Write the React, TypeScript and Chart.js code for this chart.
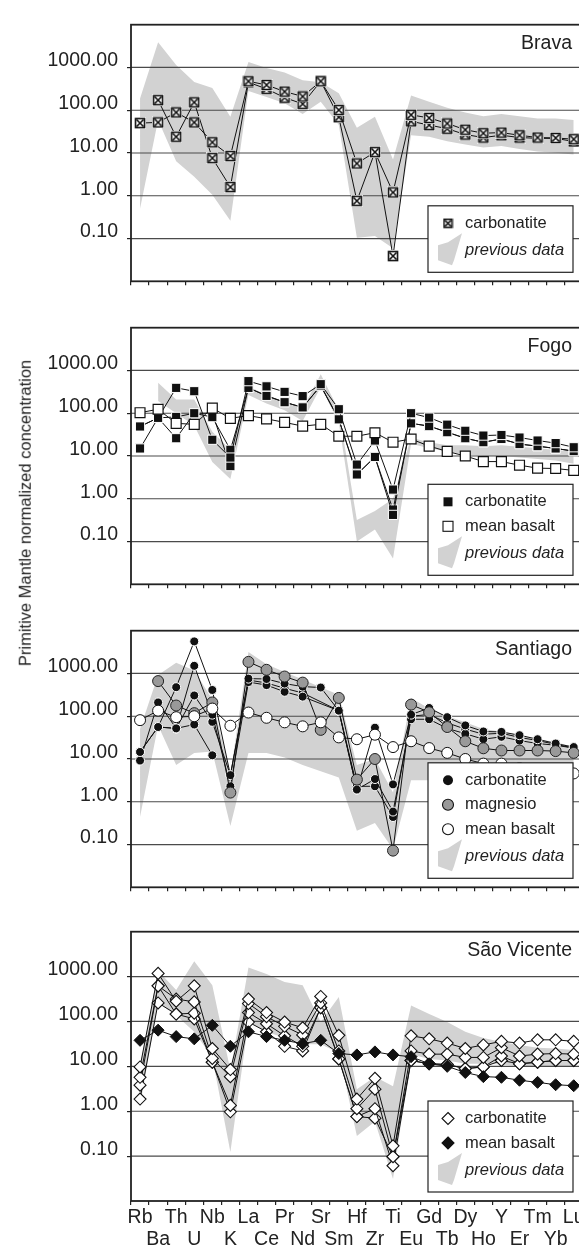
import React, { useEffect, useRef } from 'react';
import { Chart, registerables } from 'chart.js';

Chart.register(...registerables);

const FONT = '"Liberation Sans", Arial, Helvetica, sans-serif';
const TEXT = '#222';
const SHADE = '#d2d2d2';

// ---------- data ----------
const ELEMENTS = ['Rb', 'Ba', 'Th', 'U', 'Nb', 'K', 'La', 'Ce', 'Pr', 'Nd', 'Sr', 'Sm', 'Hf', 'Zr', 'Ti', 'Eu', 'Gd', 'Tb', 'Dy', 'Ho', 'Y', 'Er', 'Tm', 'Yb', 'Lu'];
const Y_TICKS = [0.1, 1, 10, 100, 1000];
const Y_MIN = 0.01;
const Y_MAX = 10000;

// Brava
const bravaCarbA = [50, 52, 89, 52, 17.8, 8.5, 475, 390, 273, 210, 475, 101, 5.7, 10.5, 1.2, 78, 66, 49, 35, 29, 30, 26, 23, 22.5, 21];
const bravaCarbB = [null, 172, 24, 153, 7.6, 1.6, 450, 316, 197, 141, 475, 69, 0.76, 10.5, 0.039, 55, 45, 37, 27, 23, 26, 23, 22, 22, 18.6];
const bravaShadeHi = [187, 3900, 1140, 460, 330, 70, 1350, 970, 760, 500, 450, 250, 39, 70, 7, 220, 158, 114, 89, 72, 82, 72, 64, 64, 59];
const bravaShadeLo = [0.5, 59, 6.4, 2.8, 1.05, 0.26, 282, 203, 146, 82, 158, 45, 0.105, 0.114, 0.059, 26, 24, 18.7, 15.8, 13.5, 14.5, 12.4, 10.9, 10.2, 9.2];

// Fogo
const fogoCarbA = [49, 78, 392, 327, 24, 9.2, 562, 425, 316, 251, 477, 124, 6.3, 23, 1.64, 100, 79, 54, 39, 30, 31, 27, 23, 20, 16];
const fogoCarbB = [49, 78, 82, 100, 81, 14, 392, 255, 181, 137, 440, 72, 3.7, 9.5, 0.42, 58, 50, 36, 26, 21, 25, 19, 17, 15, 13];
const fogoCarbC = [15, 78, 26, 100, 100, 5.8, 392, 255, 181, 137, 440, 72, 3.7, 9.5, 0.56, 58, 50, 36, 26, 21, 25, 19, 17, 15, 13];
const fogoBasalt = [103, 124, 58, 55, 132, 76, 88, 74, 61, 50, 55, 29, 29, 35, 21, 25, 17, 12.8, 10, 7.4, 7.4, 6.1, 5.2, 5.1, 4.6];
const fogoShadeHi = [null, 518, 209, 209, 37, 14, 425, 268, 187, 128, 820, 118, 0.32, 0.52, 1.0, 26.8, 21, 17.8, 17.8, 16.9, 17.8, 16.4, 15.1, 13.9, 12.8];
const fogoShadeLo = [null, 193, 100, 52, 7.2, 2.9, 268, 169, 118, 66, 405, 61, 0.1, 0.19, 0.04, 19.3, 15.1, 12.8, 10.9, 10, 10, 9.2, 8.5, 7.8, 6.6];

// Santiago
const santCarbA = [14.6, 56, 477, 5623, 411, 4.2, 757, 743, 580, 493, 469, 135, 1.93, 54, 2.55, 109, 156, 95, 61, 44, 43, 36, 29, 23, 19];
const santCarbB = [9.2, 210, 52, 1510, 109, 2.3, 631, 535, 373, 287, null, 135, 1.93, 3.4, 0.59, 85, 85, 52, 39, 29, 33, 27, 23, 21, 18];
const santCarbC = [14.6, 56, 52, 306, 74, 4.2, 700, 600, 450, 350, null, 135, 2.3, 2.3, 0.44, 100, 110, 70, 50, 38, 40, 32, 27, 22, 18];
const santCarbD = [null, 56, 52, 64, 12.2, null, null, null, null, null, null, null, null, null, null, null, null, null, null, null, null, null, null, null, null];
const santMag = [null, 663, 178, 118, 210, 1.64, 1866, 1218, 849, 611, 48, 268, 3.3, 10, 0.072, 187, 124, 56, 26, 17.8, 15.8, 15.8, 15.8, 15.3, 13.9];
const santBasalt = [81, 135, 95, 100, 151, 60, 122, 92, 72, 58, 72, 32, 29, 37, 19, 26, 18, 13.9, 10, 7.8, 7.8, 6.1, 5.2, 4.8, 4.6];
const santShadeHi = [50, 921, 1778, 1178, 247, 4.4, 3162, 1637, 1086, 720, 477, 316, 7.2, 10, 1.64, 268, 151, 100, 72, 50, 44, 36, 29, 25, 19];
const santShadeLo = [0.44, 61, 7.2, 13.9, 15, 0.27, 13.9, 13.9, 10.9, 7.2, 5.2, 3.7, 0.21, 0.32, 0.078, 3.2, 3.2, 2.9, 2.7, 2.5, 2.5, 2.3, 2.1, 1.9, 1.8];

// São Vicente
const svCarbA = [9.7, 1178, 282, 621, 25, 8.5, 316, 158, 97, 72, 361, 49, 1.87, 5.4, 0.17, 48, 41, 33, 25, 30, 36, 33, 39, 39, 36];
const svCarbB = [5.7, 621, 316, 273, 15, 5.9, 251, 128, 78, 50, 259, 22, 1.14, 3.1, 0.097, 22, 18.7, 18.7, 15.8, 15.8, 26, 17, 18.7, 19.3, 18.7];
const svCarbC = [3.8, 621, 146, 153, 12.4, 1.35, 158, 89, 48, 28, 203, 14.6, 0.76, 1.14, 0.061, 13.5, 11.4, 11, 8.9, 9.7, 17, 11.4, 12.4, 13.5, 13.5];
const svCarbD = [1.87, 259, 146, 114, 12.4, 0.97, 97, 59, 28, 22, 203, 14.6, 0.76, 0.7, 0.097, 13.5, 11.4, 11, 8.9, 9.7, 13.5, 11.4, 12.4, 13.5, 13.5];
const svBasalt = [38, 64, 46, 41, 82, 28, 59, 46, 38, 32, 38, 19.3, 18, 21, 18, 16.4, 11.4, 10, 7.3, 5.9, 5.7, 4.9, 4.4, 3.9, 3.7];
const svShadeHi = [9.7, 1345, 501, 2203, 641, 8.2, 1585, 1140, 757, 641, 97, 349, 3.1, 5.9, 3.6, 228, 146, 97, 59, 43, 35, 30, 26, 25, 23];
const svShadeLo = [1.35, 259, 135, 59, 15.8, 0.124, 97, 59, 43, 31, 31, 20, 0.28, 0.59, 0.031, 18.7, 14.6, 13.5, 11.4, 11.4, 11, 10, 9.7, 9.7, 9.7];

// ---------- layout ----------
const CANVAS_W = 600;
const AREA_LEFT = 131;
const AREA_RIGHT = 582.75;
const AREA_H = 280;
const PAD_TOP = 10;

type Marker = 'xsquare' | 'blacksquare' | 'whitesquare' | 'blackcircle' | 'greycircle' | 'whitecircle' | 'whitediamond' | 'blackdiamond' | 'shade';

interface Series { data: (number | null)[]; marker: Marker }
interface PanelCfg {
  name: string;
  top: number;
  axisH: number;
  showLabels: boolean;
  series: Series[];
  shadeHi: (number | null)[];
  shadeLo: (number | null)[];
  legend: { label: string; marker: Marker; italic?: boolean }[];
}

const PANELS: PanelCfg[] = [
  {
    name: 'Brava', top: 14, axisH: 8, showLabels: false,
    series: [{ data: bravaCarbA, marker: 'xsquare' }, { data: bravaCarbB, marker: 'xsquare' }],
    shadeHi: bravaShadeHi, shadeLo: bravaShadeLo,
    legend: [{ label: 'carbonatite', marker: 'xsquare' }, { label: 'previous data', marker: 'shade', italic: true }],
  },
  {
    name: 'Fogo', top: 317, axisH: 8, showLabels: false,
    series: [
      { data: fogoBasalt, marker: 'whitesquare' },
      { data: fogoCarbA, marker: 'blacksquare' },
      { data: fogoCarbB, marker: 'blacksquare' },
      { data: fogoCarbC, marker: 'blacksquare' },
    ],
    shadeHi: fogoShadeHi, shadeLo: fogoShadeLo,
    legend: [
      { label: 'carbonatite', marker: 'blacksquare' },
      { label: 'mean basalt', marker: 'whitesquare' },
      { label: 'previous data', marker: 'shade', italic: true },
    ],
  },
  {
    name: 'Santiago', top: 620, axisH: 8, showLabels: false,
    series: [
      { data: santBasalt, marker: 'whitecircle' },
      { data: santMag, marker: 'greycircle' },
      { data: santCarbA, marker: 'blackcircle' },
      { data: santCarbB, marker: 'blackcircle' },
      { data: santCarbC, marker: 'blackcircle' },
      { data: santCarbD, marker: 'blackcircle' },
    ],
    shadeHi: santShadeHi, shadeLo: santShadeLo,
    legend: [
      { label: 'carbonatite', marker: 'blackcircle' },
      { label: 'magnesio', marker: 'greycircle' },
      { label: 'mean basalt', marker: 'whitecircle' },
      { label: 'previous data', marker: 'shade', italic: true },
    ],
  },
  {
    name: 'São Vicente', top: 921, axisH: 44, showLabels: true,
    series: [
      { data: svBasalt, marker: 'blackdiamond' },
      { data: svCarbA, marker: 'whitediamond' },
      { data: svCarbB, marker: 'whitediamond' },
      { data: svCarbC, marker: 'whitediamond' },
      { data: svCarbD, marker: 'whitediamond' },
    ],
    shadeHi: svShadeHi, shadeLo: svShadeLo,
    legend: [
      { label: 'carbonatite', marker: 'whitediamond' },
      { label: 'mean basalt', marker: 'blackdiamond' },
      { label: 'previous data', marker: 'shade', italic: true },
    ],
  },
];

// ---------- markers ----------
const xsqCache: Record<number, HTMLCanvasElement> = {};
function xSquare(size: number): HTMLCanvasElement {
  if (xsqCache[size]) return xsqCache[size];
  const c = document.createElement('canvas');
  c.width = size;
  c.height = size;
  const g = c.getContext('2d') as CanvasRenderingContext2D;
  g.fillStyle = '#fff';
  g.fillRect(0, 0, size, size);
  g.strokeStyle = '#111';
  g.lineWidth = 1.6;
  g.strokeRect(1.5, 1.5, size - 3, size - 3);
  g.beginPath();
  g.moveTo(2.5, 2.5);
  g.lineTo(size - 2.5, size - 2.5);
  g.moveTo(size - 2.5, 2.5);
  g.lineTo(2.5, size - 2.5);
  g.stroke();
  xsqCache[size] = c;
  return c;
}

function markerProps(kind: Marker) {
  switch (kind) {
    case 'xsquare':
      return { pointStyle: xSquare(12), pointRadius: 6, pointBorderWidth: 0, pointBackgroundColor: '#fff', pointBorderColor: '#111' };
    case 'blacksquare':
      return { pointStyle: 'rect', pointRadius: 6.5, pointBackgroundColor: '#111', pointBorderColor: '#fff', pointBorderWidth: 1 };
    case 'whitesquare':
      return { pointStyle: 'rect', pointRadius: 7, pointBackgroundColor: '#fff', pointBorderColor: '#111', pointBorderWidth: 1.2 };
    case 'blackcircle':
      return { pointStyle: 'circle', pointRadius: 4.5, pointBackgroundColor: '#111', pointBorderColor: '#fff', pointBorderWidth: 1 };
    case 'greycircle':
      return { pointStyle: 'circle', pointRadius: 5.5, pointBackgroundColor: '#999', pointBorderColor: '#222', pointBorderWidth: 1 };
    case 'whitecircle':
      return { pointStyle: 'circle', pointRadius: 5.5, pointBackgroundColor: '#fff', pointBorderColor: '#111', pointBorderWidth: 1 };
    case 'whitediamond':
      return { pointStyle: 'rectRot', pointRadius: 6, pointBackgroundColor: '#fff', pointBorderColor: '#111', pointBorderWidth: 1.1 };
    case 'blackdiamond':
      return { pointStyle: 'rectRot', pointRadius: 6, pointBackgroundColor: '#111', pointBorderColor: '#111', pointBorderWidth: 1 };
    default:
      return {};
  }
}

function drawLegendMarker(ctx: CanvasRenderingContext2D, kind: Marker, x: number, y: number) {
  ctx.save();
  ctx.lineWidth = 1.1;
  ctx.strokeStyle = '#111';
  switch (kind) {
    case 'xsquare':
      ctx.drawImage(xSquare(11), x - 5.5, y - 5.5);
      break;
    case 'blacksquare':
      ctx.fillStyle = '#111';
      ctx.fillRect(x - 4.5, y - 4.5, 9, 9);
      break;
    case 'whitesquare':
      ctx.fillStyle = '#fff';
      ctx.fillRect(x - 5, y - 5, 10, 10);
      ctx.strokeRect(x - 5, y - 5, 10, 10);
      break;
    case 'blackcircle':
    case 'greycircle':
    case 'whitecircle':
      ctx.beginPath();
      ctx.arc(x, y, kind === 'blackcircle' ? 5 : 5.5, 0, Math.PI * 2);
      ctx.fillStyle = kind === 'blackcircle' ? '#111' : kind === 'greycircle' ? '#999' : '#fff';
      ctx.fill();
      if (kind !== 'blackcircle') ctx.stroke();
      break;
    case 'whitediamond':
    case 'blackdiamond':
      ctx.beginPath();
      ctx.moveTo(x, y - 6);
      ctx.lineTo(x + 6, y);
      ctx.lineTo(x, y + 6);
      ctx.lineTo(x - 6, y);
      ctx.closePath();
      ctx.fillStyle = kind === 'blackdiamond' ? '#111' : '#fff';
      ctx.fill();
      ctx.stroke();
      break;
    case 'shade': {
      const pts = [[-10, -5], [0, -8], [14, -17], [6, 10], [4, 15], [-10, 10]];
      ctx.beginPath();
      pts.forEach(([dx, dy], i) => (i ? ctx.lineTo(x + dx, y + dy) : ctx.moveTo(x + dx, y + dy)));
      ctx.closePath();
      ctx.fillStyle = SHADE;
      ctx.fill();
      break;
    }
  }
  ctx.restore();
}

function makeDecor(cfg: PanelCfg) {
  return {
    id: 'panelDecor',
    afterDatasetDraw(chart: any, args: any) {
      if (args.index !== 1) return;
      const { ctx, chartArea: a } = chart;
      const ys = chart.scales.y;
      ctx.save();
      ctx.strokeStyle = '#4a4a4a';
      ctx.lineWidth = 1.2;
      Y_TICKS.forEach((v) => {
        const py = ys.getPixelForValue(v);
        ctx.beginPath();
        ctx.moveTo(a.left, py);
        ctx.lineTo(a.right, py);
        ctx.stroke();
      });
      ctx.restore();
    },
    afterDraw(chart: any) {
      const { ctx, chartArea: a } = chart;
      ctx.save();
      // frame
      ctx.strokeStyle = '#222';
      ctx.lineWidth = 1.8;
      ctx.strokeRect(a.left, a.top, a.right - a.left, a.bottom - a.top);
      // panel name
      ctx.fillStyle = TEXT;
      ctx.font = `19.5px ${FONT}`;
      ctx.textAlign = 'right';
      ctx.textBaseline = 'middle';
      ctx.fillText(cfg.name, 572, a.top + 19);
      // legend
      const n = cfg.legend.length;
      const bottom = a.bottom - 9;
      const rows: number[] = new Array(n);
      rows[n - 1] = bottom - 22;
      if (n >= 2) rows[n - 2] = rows[n - 1] - 27;
      for (let k = n - 3; k >= 0; k--) rows[k] = rows[k + 1] - 24.5;
      const top = rows[0] - 17.5;
      ctx.fillStyle = '#fff';
      ctx.fillRect(428, top, 145, bottom - top);
      ctx.strokeStyle = '#222';
      ctx.lineWidth = 1.2;
      ctx.strokeRect(428, top, 145, bottom - top);
      cfg.legend.forEach((it, i) => {
        drawLegendMarker(ctx, it.marker, 448, rows[i]);
        ctx.fillStyle = TEXT;
        ctx.font = `${it.italic ? 'italic ' : ''}16.5px ${FONT}`;
        ctx.textAlign = 'left';
        ctx.textBaseline = 'middle';
        ctx.fillText(it.label, 465, rows[i]);
      });
      ctx.restore();
    },
  };
}

function buildConfig(cfg: PanelCfg): any {
  const datasets: any[] = [
    { label: 'shade-hi', data: cfg.shadeHi, fill: '+1', backgroundColor: SHADE, borderColor: 'rgba(0,0,0,0)', borderWidth: 0, pointRadius: 0, order: 101, spanGaps: false },
    { label: 'shade-lo', data: cfg.shadeLo, fill: false, backgroundColor: SHADE, borderColor: 'rgba(0,0,0,0)', borderWidth: 0, pointRadius: 0, order: 100, spanGaps: false },
    ...cfg.series.map((s, i) => ({
      label: 's' + i,
      data: s.data,
      fill: false,
      borderColor: '#111',
      borderWidth: 1,
      spanGaps: true,
      order: i,
      ...markerProps(s.marker),
    })),
  ];
  const H = PAD_TOP + AREA_H + cfg.axisH;
  return {
    type: 'line',
    data: { labels: ELEMENTS, datasets },
    options: {
      responsive: false,
      animation: false,
      devicePixelRatio: 1,
      layout: { padding: { top: PAD_TOP, right: CANVAS_W - AREA_RIGHT, bottom: 0, left: 0 } },
      elements: { line: { tension: 0 } },
      plugins: { legend: { display: false }, tooltip: { enabled: false }, title: { display: false } },
      scales: {
        x: {
          type: 'category',
          offset: true,
          grid: { offset: true, drawOnChartArea: false, drawTicks: true, tickLength: 4, color: '#222', lineWidth: 1.2 },
          border: { display: false },
          ticks: {
            display: cfg.showLabels,
            autoSkip: false,
            maxRotation: 0,
            minRotation: 0,
            padding: 2,
            color: TEXT,
            font: { family: FONT, size: 19.5, lineHeight: 1.13 },
            callback: (_v: any, i: number) => (i % 2 === 0 ? [ELEMENTS[i], ''] : ['', ELEMENTS[i]]),
          },
          afterFit: (s: any) => {
            s.height = cfg.axisH;
            s.paddingLeft = 0;
            s.paddingRight = 0;
          },
        },
        y: {
          type: 'logarithmic',
          min: Y_MIN,
          max: Y_MAX,
          grid: { drawOnChartArea: false, drawTicks: true, tickLength: 4, color: '#222', lineWidth: 1.2 },
          border: { display: false },
          afterBuildTicks: (s: any) => {
            s.ticks = Y_TICKS.map((v) => ({ value: v }));
          },
          ticks: {
            autoSkip: false,
            padding: 9,
            labelOffset: -6.5,
            color: TEXT,
            font: { family: FONT, size: 19.5 },
            callback: (v: any) => Number(v).toFixed(2),
          },
          afterFit: (s: any) => {
            s.width = AREA_LEFT;
          },
        },
      },
    },
    plugins: [makeDecor(cfg)],
    _h: H,
  };
}

function Panel({ cfg }: { cfg: PanelCfg }) {
  const ref = useRef<HTMLCanvasElement | null>(null);
  const H = PAD_TOP + AREA_H + cfg.axisH;
  useEffect(() => {
    if (!ref.current) return;
    const chart = new Chart(ref.current, buildConfig(cfg));
    return () => chart.destroy();
  }, [cfg]);
  return (
    <canvas
      ref={ref}
      width={CANVAS_W}
      height={H}
      style={{ position: 'absolute', left: 0, top: cfg.top - PAD_TOP, width: CANVAS_W, height: H, display: 'block' }}
    />
  );
}

export default function App() {
  return (
    <div style={{ position: 'absolute', left: 0, top: 0, width: 579, height: 1245, overflow: 'hidden', background: '#fff' }}>
      {PANELS.map((p) => (
        <Panel key={p.name} cfg={p} />
      ))}
      <div
        style={{
          position: 'absolute',
          left: 25,
          top: 513,
          transform: 'translate(-50%, -50%) rotate(-90deg)',
          whiteSpace: 'nowrap',
          fontFamily: FONT,
          fontSize: 16.5,
          color: TEXT,
          lineHeight: 1,
        }}
      >
        Primitive Mantle normalized concentration
      </div>
    </div>
  );
}
